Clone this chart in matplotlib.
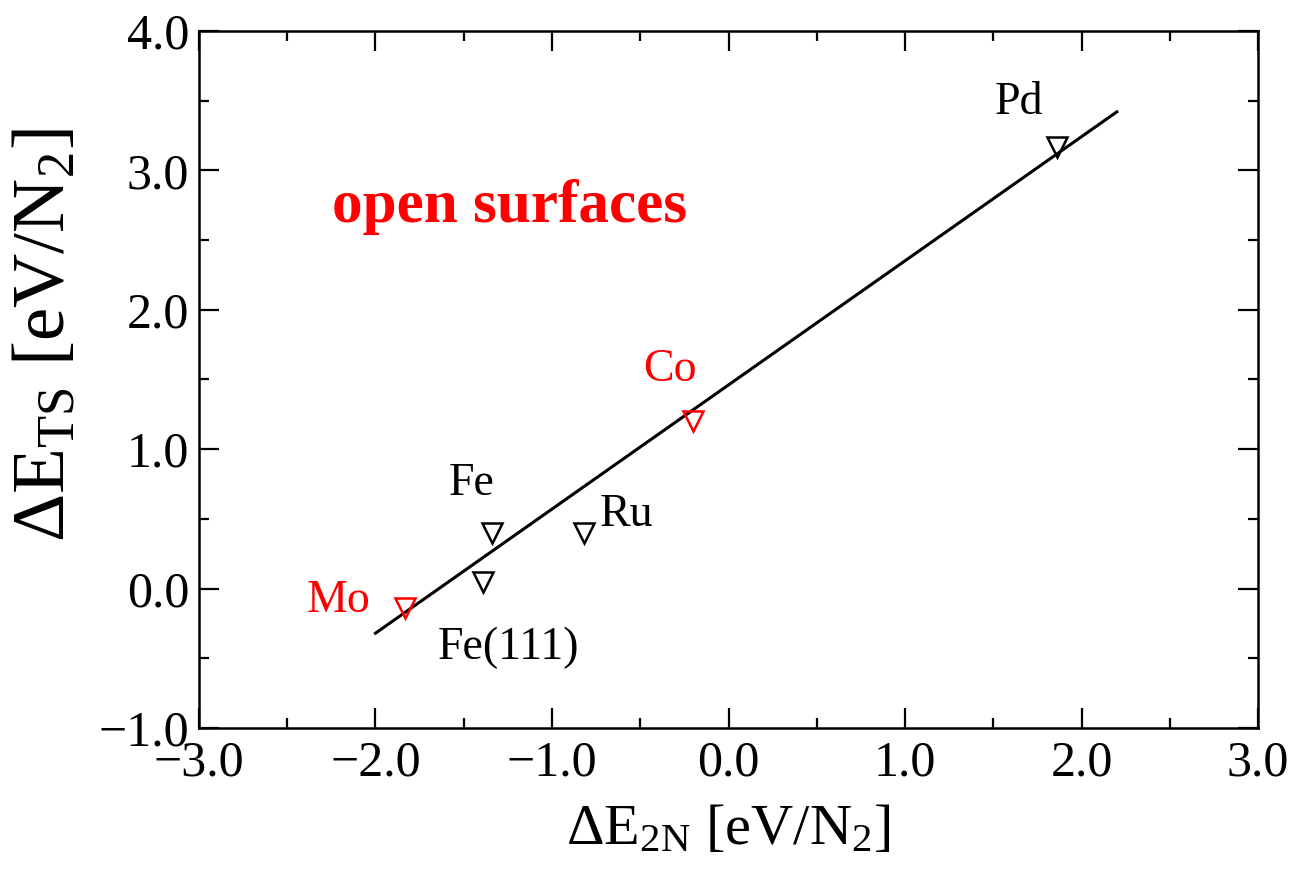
import numpy as np
import matplotlib
matplotlib.use("Agg")
import matplotlib.pyplot as plt
from matplotlib.ticker import MultipleLocator

# Metais e energias (eV/N2)
metais = ["Pd", "Co", "Fe", "Ru", "Fe(111)", "Mo"]
de_2n = [1.86, -0.20, -1.34, -0.82, -1.39, -1.83]
de_ts = [3.17, 1.20, 0.40, 0.40, 0.05, -0.14]
cores = ["black", "red", "black", "black", "black", "red"]

# Recta de ajuste (extremos)
ajuste_x = [-2.0, 2.2]
ajuste_y = [-0.32, 3.42]

# deslocamento das etiquetas (pontos)
desloc = {"Pd": (-27, 32), "Co": (-17, 37), "Fe": (-15, 35),
          "Ru": (31, 13), "Fe(111)": (18, -48), "Mo": (-48, 5)}

plt.rcParams["font.family"] = ["Liberation Serif", "DejaVu Serif"]
plt.rcParams["mathtext.fontset"] = "custom"
plt.rcParams["mathtext.rm"] = "Liberation Serif"
plt.rcParams["mathtext.it"] = "Liberation Serif"

fig = plt.figure(figsize=(12.98, 8.71), dpi=100)
ax = fig.add_axes([0.1533, 0.1642, 0.8159, 0.8002])

ax.plot(ajuste_x, ajuste_y, color="black", linewidth=2.2, zorder=2)

for nome, x, y, c in zip(metais, de_2n, de_ts, cores):
    ax.plot(x, y, marker="v", markersize=15, markerfacecolor="none",
            markeredgecolor=c, markeredgewidth=1.8, linestyle="none", zorder=3)
    ax.annotate(nome, (x, y), xytext=desloc[nome], textcoords="offset points",
                ha="center", va="center", fontsize=33, color=c)

ax.text(0.293, 0.748, "open surfaces", transform=ax.transAxes, color="red",
        fontsize=44, fontweight="bold", ha="center", va="center")

ax.set_xlim(-3, 3)
ax.set_ylim(-1, 4)
ax.xaxis.set_major_locator(MultipleLocator(1.0))
ax.xaxis.set_minor_locator(MultipleLocator(0.5))
ax.yaxis.set_major_locator(MultipleLocator(1.0))
ax.yaxis.set_minor_locator(MultipleLocator(0.5))
ax.xaxis.set_major_formatter(lambda v, p: f"{v:.1f}".replace("-", "\u2212"))
ax.yaxis.set_major_formatter(lambda v, p: f"{v:.1f}".replace("-", "\u2212"))

ax.tick_params(which="both", direction="in", top=True, right=True,
               width=1.6, labelsize=36)
ax.tick_params(which="major", length=14.5)
ax.tick_params(which="minor", length=7.5)
ax.tick_params(axis="x", pad=9)
ax.tick_params(axis="y", pad=7)
for s in ax.spines.values():
    s.set_linewidth(1.8)

ax.set_xlabel(r"$\Delta$E$_{\rm 2N}$ [eV/N$_2$]", fontsize=42, labelpad=12)
ax.set_ylabel(r"$\Delta$E$_{\rm TS}$ [eV/N$_2$]", fontsize=54)
ax.yaxis.set_label_coords(-0.112, 0.564)

fig.savefig("out.png", dpi=100)
